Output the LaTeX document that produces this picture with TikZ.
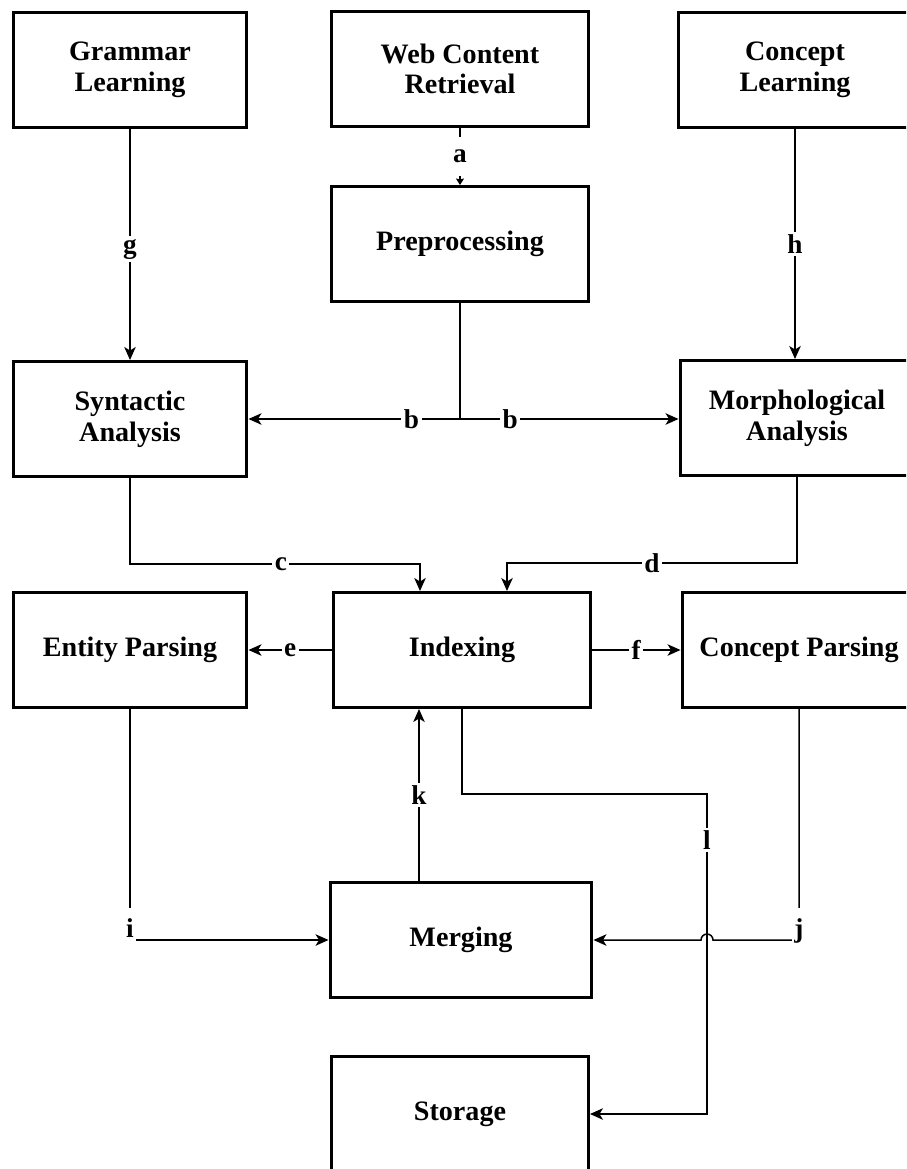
\documentclass[tikz,border=0pt]{standalone}
\usepackage{fontspec}
\setmainfont{Liberation Serif}
\usetikzlibrary{arrows.meta,calc}
\begin{document}
\begin{tikzpicture}[x=0.02cm,y=-0.02cm,
  box/.style={draw,line width=1.7pt,minimum height=2.3cm,align=center,inner sep=0pt,
    font=\fontsize{16}{17.5}\selectfont\bfseries},
  side/.style={box,minimum width=4.68cm},
  mid/.style={box,minimum width=5.14cm},
  wire/.style={line width=0.85pt},
  conn/.style={wire,-{Stealth[length=0.26cm,width=0.23cm,inset=0.07cm]}},
  smallconn/.style={wire,-{Stealth[length=0.13cm,width=0.16cm,inset=0.02cm]}},
  lbl/.style={fill=white,inner sep=1.5pt,font=\fontsize{15.5}{15.5}\selectfont\bfseries},
  cornerlbl/.style={lbl,anchor=base,inner ysep=6pt,yshift=0.06cm}]

\useasboundingbox (0,0) rectangle (906,1169);
\clip (0,0) rectangle (906,1169);

% process boxes
\node[side] (gl)  at (130,70)   {Grammar\\Learning};
\node[mid]  (wcr) at (460,69)   {Web Content\\Retrieval};
\node[side] (cl)  at (795,70)   {Concept\\Learning};
\node[mid]  (pre) at (460,244)  {Preprocessing};
\node[side] (syn) at (130,419)  {Syntactic\\Analysis};
\node[side] (mor) at (797,418)  {Morphological\\Analysis};
\node[side] (ent) at (130,650)  {Entity Parsing};
\node[mid]  (idx) at (462,650)  {Indexing};
\node[side] (cpa) at (799,650)  {Concept Parsing};
\node[mid,minimum width=5.24cm] (mer) at (461,940) {Merging};
\node[mid]  (sto) at (460,1114) {Storage};

% column used by the route to storage
\coordinate (lc) at (707,794);

% a: retrieval to preprocessing
\draw[smallconn] (wcr.south) -- node[lbl,inner ysep=7.5pt]{a} (pre.north);

% g, h: learning feeds
\draw[conn] (gl) -- node[lbl,pos=0.52]{g} (syn);
\draw[conn] (cl.south) -- node[lbl]{h} (cl.south |- mor.north);

% b: preprocessing splits to both analyses
\draw[wire] (pre.south) -- (pre.south |- syn.east) coordinate (bj);
\draw[conn] (bj) -- node[lbl,pos=0.23]{b} (syn.east);
\draw[conn] (bj) -- node[lbl,pos=0.23]{b} (bj -| mor.west);

% c, d: analyses into indexing
\draw[conn] (syn.south) -- ++(0,86) -| node[lbl,pos=0.26]{c} ($(idx.north)+(-42,0)$);
\draw[conn] (mor.south) -- ++(0,86) -| node[lbl,pos=0.25]{d} ($(idx.north)+(45,0)$);

% e, f: indexing to parsers
\draw[conn] (idx.west) -- node[lbl]{e} (ent.east);
\draw[conn] (idx.east) -- node[lbl]{f} (cpa.west);

% k: merging back into indexing
\draw[conn] ($(mer.north)+(-42,0)$) -- node[lbl]{k} ($(mer.north |- idx.south)+(-42,0)$);

% l: indexing to storage
\draw[conn] (idx.south) -- (idx.south |- lc) -- (lc)
  -- node[lbl,pos=0.144]{l} (lc |- sto.east) -- (sto.east);

% i: entity parsing into merging
\draw[conn] (ent.south) |- node[cornerlbl,pos=0.5]{i} (mer.west);

% j: concept parsing into merging, hopping over l
\draw[conn] (cpa.south) -- (cpa.south |- mer.east) node[cornerlbl]{j}
  -- ($(lc |- mer.east)+(6,0)$) arc[start angle=0,end angle=180,radius=0.12cm]
  -- (mer.east);

\end{tikzpicture}
\end{document}
